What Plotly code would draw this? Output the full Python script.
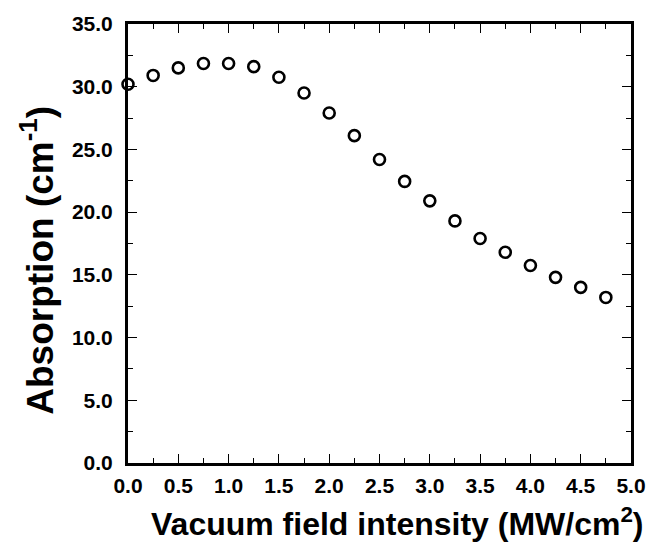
import plotly.graph_objects as go

field = [0.0, 0.25, 0.5, 0.75, 1.0, 1.25, 1.5, 1.75, 2.0, 2.25, 2.5, 2.75, 3.0, 3.25, 3.5, 3.75, 4.0, 4.25, 4.5, 4.75]
absorption = [30.2, 30.9, 31.5, 31.85, 31.85, 31.6, 30.75, 29.5, 27.9, 26.1, 24.2, 22.45, 20.9, 19.3, 17.9, 16.8, 15.75, 14.8, 14.0, 13.2]

xticks = [0.0, 0.5, 1.0, 1.5, 2.0, 2.5, 3.0, 3.5, 4.0, 4.5, 5.0]
yticks = [0.0, 5.0, 10.0, 15.0, 20.0, 25.0, 30.0, 35.0]

FONT = "Liberation Sans"

fig = go.Figure()
fig.add_trace(go.Scatter(
    x=field, y=absorption, mode="markers",
    marker=dict(symbol="circle-open", size=11, color="black", line=dict(width=2.6, color="black")),
    cliponaxis=False, showlegend=False,
))

axis_common = dict(
    showline=True, linecolor="black", linewidth=3, mirror="allticks",
    ticks="inside", ticklen=9, tickwidth=1.3, tickcolor="black",
    showgrid=False, zeroline=False,
    tickfont=dict(family=FONT, size=21, color="black", weight="bold"),
)

fig.update_xaxes(
    range=[0, 5], tickvals=xticks, ticktext=[f"{v:.1f}" for v in xticks],
    minor=dict(ticks="inside", ticklen=5, tickwidth=1, tickcolor="black", dtick=0.25, tick0=0),
    ticklabelstandoff=2,
    **axis_common,
)
fig.update_yaxes(
    range=[0, 35], tickvals=yticks, ticktext=[f"{v:.1f}" for v in yticks],
    minor=dict(ticks="inside", ticklen=5, tickwidth=1, tickcolor="black", dtick=2.5, tick0=0),
    ticklabelstandoff=8,
    **axis_common,
)

fig.add_annotation(
    text="Vacuum field intensity (MW/cm<sup>2</sup>)", xref="paper", yref="paper",
    x=0.535, y=-0.135, xanchor="center", yanchor="middle", showarrow=False,
    font=dict(family=FONT, size=32, color="black", weight="bold"),
)
fig.add_annotation(
    text="Absorption (cm<sup>-1</sup>)", xref="paper", yref="paper",
    x=-0.179, y=0.463, xanchor="center", yanchor="middle", textangle=-90, showarrow=False,
    font=dict(family=FONT, size=37, color="black", weight="bold"),
)

fig.update_layout(
    width=666, height=551,
    margin=dict(l=128, r=35, t=12, b=88),
    paper_bgcolor="white", plot_bgcolor="white",
)

fig.write_html("out.html")
